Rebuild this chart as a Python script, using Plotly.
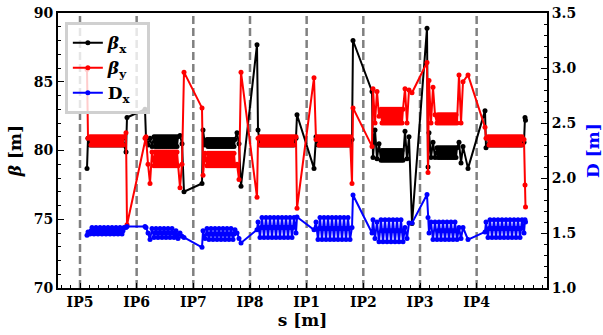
import plotly.graph_objects as go

# ---------------- data ----------------
IP_S = [0.0, 11.33, 22.66, 34.0, 45.33, 56.66, 68.0, 79.33]
IP_LABELS = ["IP5", "IP6", "IP7", "IP8", "IP1", "IP2", "IP3", "IP4"]

# IP5 -> IP6
S_56 = [1.4, 1.6,
        2.0, 2.2, 2.4, 2.6, 2.8, 3.0, 3.2, 3.4, 3.6, 3.8,
        4.0, 4.2, 4.4, 4.6, 4.8, 5.0, 5.2, 5.4, 5.6, 5.8,
        6.0, 6.2, 6.4, 6.6, 6.8, 7.0, 7.2, 7.4, 7.6, 7.8,
        8.0, 8.2, 8.4, 8.6, 8.8,
        9.2, 9.4, 13.0]
BX_56 = [78.7, 80.9,
         80.4, 80.9, 80.4, 80.9, 80.4, 80.9, 80.4, 80.9, 80.4, 80.9,
         80.4, 80.9, 80.4, 80.9, 80.4, 80.9, 80.4, 80.9, 80.4, 80.9,
         80.4, 80.9, 80.4, 80.9, 80.4, 80.9, 80.4, 80.9, 80.4, 80.9,
         80.4, 80.9, 80.4, 80.9, 80.4,
         79.9, 82.4, 83.0]
BY_56 = [85.9, 80.9,
         81.0, 80.4, 81.0, 80.4, 81.0, 80.4, 81.0, 80.4, 81.0, 80.4,
         81.0, 80.4, 81.0, 80.4, 81.0, 80.4, 81.0, 80.4, 81.0, 80.4,
         81.0, 80.4, 81.0, 80.4, 81.0, 80.4, 81.0, 80.4, 81.0, 80.4,
         81.0, 80.4, 81.0, 80.4, 81.0,
         81.3, 74.6, 80.9]
DX_56 = [1.48, 1.51,
         1.49, 1.52, 1.55, 1.52, 1.49, 1.52, 1.55, 1.52, 1.49, 1.52,
         1.55, 1.52, 1.49, 1.52, 1.55, 1.52, 1.49, 1.52, 1.55, 1.52,
         1.49, 1.52, 1.55, 1.52, 1.49, 1.52, 1.55, 1.52, 1.49, 1.52,
         1.55, 1.52, 1.49, 1.52, 1.55,
         1.55, 1.56, 1.56]

# IP6 -> IP7
S_67 = [13.2, 13.6, 14.0, 14.4,
        14.8, 15.0, 15.2, 15.4, 15.6, 15.8, 16.0, 16.2, 16.4, 16.6,
        16.8, 17.0, 17.2, 17.4, 17.6, 17.8, 18.0, 18.2, 18.4, 18.6,
        18.8, 19.0, 19.2, 19.4, 19.6,
        20.0, 20.4, 20.8, 24.4]
BX_67 = [80.9, 80.4, 80.9, 80.3,
         81.0, 80.3, 81.0, 80.3, 81.0, 80.3, 81.0, 80.3, 81.0, 80.3,
         81.0, 80.3, 81.0, 80.3, 81.0, 80.3, 81.0, 80.3, 81.0, 80.3,
         81.0, 80.3, 81.0, 80.3, 81.0,
         81.1, 80.5, 77.0, 77.6]
BY_67 = [81.0, 79.0, 77.6, 79.9,
         78.9, 79.9, 78.9, 79.9, 78.9, 79.9, 78.9, 79.9, 78.9, 79.9,
         78.9, 79.9, 78.9, 79.9, 78.9, 79.9, 78.9, 79.9, 78.9, 79.9,
         78.9, 79.9, 78.9, 79.9, 78.9,
         77.3, 79.0, 85.7, 83.1]
DX_67 = [1.55, 1.50, 1.44, 1.54,
         1.46, 1.50, 1.54, 1.50, 1.46, 1.50, 1.54, 1.50, 1.46, 1.50,
         1.54, 1.50, 1.46, 1.50, 1.54, 1.50, 1.46, 1.50, 1.54, 1.50,
         1.46, 1.49, 1.52, 1.48, 1.45,
         1.50, 1.47, 1.46, 1.37]

# IP7 -> IP8
S_78 = [24.6, 25.0,
        25.4, 25.6, 25.8, 26.0, 26.2, 26.4, 26.6, 26.8, 27.0, 27.2,
        27.4, 27.6, 27.8, 28.0, 28.2, 28.4, 28.6, 28.8, 29.0, 29.2,
        29.4, 29.6, 29.8, 30.0, 30.2, 30.4, 30.6, 30.8, 31.0,
        31.4, 31.8, 32.2, 35.4]
BX_78 = [81.5, 80.4,
         80.8, 80.3, 80.8, 80.3, 80.8, 80.3, 80.8, 80.3, 80.8, 80.3,
         80.8, 80.3, 80.8, 80.3, 80.8, 80.3, 80.8, 80.3, 80.8, 80.3,
         80.8, 80.3, 80.8, 80.3, 80.8, 80.3, 80.8, 80.3, 80.8,
         81.3, 80.5, 77.4, 87.7]
BY_78 = [78.2, 79.8,
         78.9, 79.8, 78.9, 79.8, 78.9, 79.8, 78.9, 79.8, 78.9, 79.8,
         78.9, 79.8, 78.9, 79.8, 78.9, 79.8, 78.9, 79.8, 78.9, 79.8,
         78.9, 79.8, 78.9, 79.8, 78.9, 79.8, 78.9, 79.8, 78.9,
         79.0, 77.9, 85.7, 76.6]
DX_78 = [1.52, 1.45,
         1.54, 1.49, 1.44, 1.49, 1.54, 1.49, 1.44, 1.49, 1.54, 1.49,
         1.44, 1.49, 1.54, 1.49, 1.44, 1.49, 1.54, 1.49, 1.44, 1.49,
         1.54, 1.49, 1.44, 1.49, 1.54, 1.49, 1.44, 1.49, 1.53,
         1.50, 1.45, 1.41, 1.53]

# IP8 -> IP1
S_81 = [35.6,
        36.0, 36.2, 36.4, 36.6, 36.8, 37.0, 37.2, 37.4, 37.6, 37.8,
        38.0, 38.2, 38.4, 38.6, 38.8, 39.0, 39.2, 39.4, 39.6, 39.8,
        40.0, 40.2, 40.4, 40.6, 40.8, 41.0, 41.2, 41.4, 41.6, 41.8,
        42.0, 42.2, 42.4, 42.6, 42.8,
        43.2, 43.4]
BX_81 = [81.5,
         80.4, 80.9, 80.4, 80.9, 80.4, 80.9, 80.4, 80.9, 80.4, 80.9,
         80.4, 80.9, 80.4, 80.9, 80.4, 80.9, 80.4, 80.9, 80.4, 80.9,
         80.4, 80.9, 80.4, 80.9, 80.4, 80.9, 80.4, 80.9, 80.4, 80.9,
         80.4, 80.9, 80.4, 80.9, 80.4,
         80.9, 82.6]
BY_81 = [80.9,
         81.0, 80.4, 81.0, 80.4, 81.0, 80.4, 81.0, 80.4, 81.0, 80.4,
         81.0, 80.4, 81.0, 80.4, 81.0, 80.4, 81.0, 80.4, 81.0, 80.4,
         81.0, 80.4, 81.0, 80.4, 81.0, 80.4, 81.0, 80.4, 81.0, 80.4,
         81.0, 80.4, 81.0, 80.4, 81.0,
         81.0, 75.8]
DX_81 = [1.60,
         1.46, 1.55, 1.64, 1.55, 1.46, 1.55, 1.64, 1.55, 1.46, 1.55,
         1.64, 1.55, 1.46, 1.55, 1.64, 1.55, 1.46, 1.55, 1.64, 1.55,
         1.46, 1.55, 1.64, 1.55, 1.46, 1.55, 1.64, 1.55, 1.46, 1.55,
         1.64, 1.55, 1.46, 1.55, 1.64,
         1.50, 1.645]

# IP1 -> IP2
S_12 = [46.8, 47.2,
        47.6, 47.8, 48.0, 48.2, 48.4, 48.6, 48.8, 49.0, 49.2, 49.4,
        49.6, 49.8, 50.0, 50.2, 50.4, 50.6, 50.8, 51.0, 51.2, 51.4,
        51.6, 51.8, 52.0, 52.2, 52.4, 52.6, 52.8, 53.0, 53.2, 53.4,
        53.6, 53.8, 54.0,
        54.4, 54.6, 58.4]
BX_12 = [78.7, 81.0,
         80.4, 80.9, 80.4, 80.9, 80.4, 80.9, 80.4, 80.9, 80.4, 80.9,
         80.4, 80.9, 80.4, 80.9, 80.4, 80.9, 80.4, 80.9, 80.4, 80.9,
         80.4, 80.9, 80.4, 80.9, 80.4, 80.9, 80.4, 80.9, 80.4, 80.9,
         80.4, 80.9, 80.4,
         80.8, 88.0, 84.3]
BY_12 = [85.3, 80.8,
         81.0, 80.4, 81.0, 80.4, 81.0, 80.4, 81.0, 80.4, 81.0, 80.4,
         81.0, 80.4, 81.0, 80.4, 81.0, 80.4, 81.0, 80.4, 81.0, 80.4,
         81.0, 80.4, 81.0, 80.4, 81.0, 80.4, 81.0, 80.4, 81.0, 80.4,
         81.0, 80.4, 81.0,
         77.6, 83.1, 80.3]
DX_12 = [1.53, 1.60,
         1.44, 1.54, 1.64, 1.54, 1.44, 1.54, 1.64, 1.54, 1.44, 1.54,
         1.64, 1.54, 1.44, 1.54, 1.64, 1.54, 1.44, 1.54, 1.64, 1.54,
         1.44, 1.54, 1.64, 1.54, 1.44, 1.54, 1.64, 1.54, 1.44, 1.54,
         1.64, 1.54, 1.44,
         1.55, 1.845, 1.50]

# IP2 -> IP3
S_23 = [58.6, 59.0, 59.4, 59.8,
        60.2, 60.4, 60.6, 60.8, 61.0, 61.2, 61.4, 61.6, 61.8, 62.0,
        62.2, 62.4, 62.6, 62.8, 63.0, 63.2, 63.4, 63.6, 63.8, 64.0,
        64.2, 64.4, 64.6,
        65.0, 65.4, 65.8, 66.4, 69.4]
BX_23 = [79.5, 81.5, 79.4, 80.5,
         79.3, 80.0, 79.3, 80.0, 79.3, 80.0, 79.3, 80.0, 79.3, 80.0,
         79.3, 80.0, 79.3, 80.0, 79.3, 80.0, 79.3, 80.0, 79.3, 80.0,
         79.3, 80.0, 79.3,
         81.4, 79.4, 81.0, 74.7, 88.9]
BY_23 = [84.5, 82.0, 84.3, 82.5,
         83.0, 82.0, 83.0, 82.0, 83.0, 82.0, 83.0, 82.0, 83.0, 82.0,
         83.0, 82.0, 83.0, 82.0, 83.0, 82.0, 83.0, 82.0, 83.0, 82.0,
         83.0, 82.0, 83.0,
         84.5, 82.0, 84.4, 84.2, 86.4]
DX_23 = [1.62, 1.45, 1.60, 1.42,
         1.62, 1.52, 1.42, 1.52, 1.62, 1.52, 1.42, 1.52, 1.62, 1.52,
         1.42, 1.52, 1.62, 1.52, 1.42, 1.52, 1.62, 1.52, 1.42, 1.52,
         1.62, 1.52, 1.42,
         1.55, 1.45, 1.59, 1.59, 1.85]

# IP3 -> IP4
S_34 = [69.6, 69.8, 70.2, 70.6, 71.0,
        71.4, 71.6, 71.8, 72.0, 72.2, 72.4, 72.6, 72.8, 73.0, 73.2,
        73.4, 73.6, 73.8, 74.0, 74.2, 74.4, 74.6, 74.8, 75.0, 75.2,
        75.4,
        75.8, 76.2, 76.6, 77.6, 81.0]
BX_34 = [78.8, 81.3, 79.5, 80.6, 79.5,
         80.2, 79.5, 80.2, 79.5, 80.2, 79.5, 80.2, 79.5, 80.2, 79.5,
         80.2, 79.5, 80.2, 79.5, 80.2, 79.5, 80.2, 79.5, 80.2, 79.5,
         80.2,
         80.6, 79.1, 80.3, 78.7, 82.9]
BY_34 = [78.4, 85.1, 82.0, 84.6, 82.6,
         82.0, 82.6, 82.0, 82.6, 82.0, 82.6, 82.0, 82.6, 82.0, 82.6,
         82.0, 82.6, 82.0, 82.6, 82.0, 82.6, 82.0, 82.6, 82.0, 82.6,
         82.0,
         85.5, 82.0, 85.0, 85.5, 81.7]
DX_34 = [1.64, 1.50, 1.60, 1.44, 1.60,
         1.44, 1.52, 1.60, 1.52, 1.44, 1.52, 1.60, 1.52, 1.44, 1.52,
         1.60, 1.52, 1.44, 1.52, 1.60, 1.52, 1.44, 1.52, 1.60, 1.52,
         1.44,
         1.55, 1.45, 1.55, 1.44, 1.51]

# IP4 -> end
S_4E = [81.2,
        81.6, 81.8, 82.0, 82.2, 82.4, 82.6, 82.8, 83.0, 83.2, 83.4,
        83.6, 83.8, 84.0, 84.2, 84.4, 84.6, 84.8, 85.0, 85.2, 85.4,
        85.6, 85.8, 86.0, 86.2, 86.4, 86.6, 86.8, 87.0, 87.2, 87.4,
        87.6, 87.8, 88.0, 88.2, 88.4,
        88.8, 89.0, 89.1]
BX_4E = [80.2,
         80.4, 80.9, 80.4, 80.9, 80.4, 80.9, 80.4, 80.9, 80.4, 80.9,
         80.4, 80.9, 80.4, 80.9, 80.4, 80.9, 80.4, 80.9, 80.4, 80.9,
         80.4, 80.9, 80.4, 80.9, 80.4, 80.9, 80.4, 80.9, 80.4, 80.9,
         80.4, 80.9, 80.4, 80.9, 80.4,
         80.6, 82.4, 82.2]
BY_4E = [80.9,
         81.0, 80.4, 81.0, 80.4, 81.0, 80.4, 81.0, 80.4, 81.0, 80.4,
         81.0, 80.4, 81.0, 80.4, 81.0, 80.4, 81.0, 80.4, 81.0, 80.4,
         81.0, 80.4, 81.0, 80.4, 81.0, 80.4, 81.0, 80.4, 81.0, 80.4,
         81.0, 80.4, 81.0, 80.4, 81.0,
         80.8, 77.5, 75.9]
DX_4E = [1.60,
         1.46, 1.54, 1.62, 1.54, 1.46, 1.54, 1.62, 1.54, 1.46, 1.54,
         1.62, 1.54, 1.46, 1.54, 1.62, 1.54, 1.46, 1.54, 1.62, 1.54,
         1.46, 1.54, 1.62, 1.54, 1.46, 1.54, 1.62, 1.54, 1.46, 1.54,
         1.62, 1.54, 1.46, 1.54, 1.62,
         1.50, 1.62, 1.60]

# ---------------- assemble ----------------
S = S_56 + S_67 + S_78 + S_81 + S_12 + S_23 + S_34 + S_4E
BETA_X = BX_56 + BX_67 + BX_78 + BX_81 + BX_12 + BX_23 + BX_34 + BX_4E
BETA_Y = BY_56 + BY_67 + BY_78 + BY_81 + BY_12 + BY_23 + BY_34 + BY_4E
DISP_X = DX_56 + DX_67 + DX_78 + DX_81 + DX_12 + DX_23 + DX_34 + DX_4E
assert len(S) == len(BETA_X) == len(BETA_Y) == len(DISP_X), (len(S), len(BETA_X), len(BETA_Y), len(DISP_X))

SERIF = "DejaVu Serif"

fig = go.Figure()
fig.add_trace(go.Scatter(x=S, y=BETA_X, mode="lines+markers", name="<i>β</i><sub>x</sub>\u00a0\u00a0",
                         line=dict(color="black", width=2), marker=dict(color="black", size=5)))
fig.add_trace(go.Scatter(x=S, y=BETA_Y, mode="lines+markers", name="<i>β</i><sub>y</sub>\u00a0\u00a0",
                         line=dict(color="#ff0000", width=2), marker=dict(color="#ff0000", size=5)))
fig.add_trace(go.Scatter(x=S, y=DISP_X, mode="lines+markers", name="D<sub>x</sub>\u00a0\u00a0", yaxis="y2",
                         line=dict(color="#0000ff", width=2), marker=dict(color="#0000ff", size=5)))

for s_ip in IP_S:
    fig.add_shape(type="line", x0=s_ip, x1=s_ip, xref="x", y0=0, y1=1, yref="paper",
                  line=dict(color="#808080", width=2.5, dash="8px,4px"), layer="below")

tickfont = dict(family=SERIF, size=14, color="black", weight="bold")
titlefont = dict(family=SERIF, size=17, color="black", weight="bold")

fig.update_layout(
    width=603, height=335,
    margin=dict(l=58, r=56, t=13, b=47),
    plot_bgcolor="white", paper_bgcolor="white",
    showlegend=True,
    legend=dict(x=0.014, y=0.967, xanchor="left", yanchor="top",
                bgcolor="rgba(255,255,255,0.8)", bordercolor="#d0d0d0", borderwidth=3,
                font=dict(family=SERIF, size=17, color="black", weight="bold"),
                tracegroupgap=0),
    xaxis=dict(range=[-4.4, 93.4], tickmode="array", tickvals=IP_S, ticktext=IP_LABELS,
               automargin=False,
               showgrid=False, zeroline=False, showline=True, linecolor="black", linewidth=2,
               mirror=True, ticks="inside", ticklen=5, tickcolor="black", tickfont=tickfont,
               minor=dict(ticks="inside", ticklen=3, tick0=0, dtick=1.888, tickcolor="black"),
               title=dict(text="s [m]", font=titlefont, standoff=4)),
    yaxis=dict(range=[70, 90], tickvals=[70, 75, 80, 85, 90], showgrid=False, zeroline=False,
               automargin=False,
               showline=True, linecolor="black", linewidth=2, ticks="inside", ticklen=6,
               tickcolor="black", tickfont=tickfont,
               minor=dict(ticks="inside", ticklen=3, dtick=1, tickcolor="black"),
               title=dict(text="<i>β</i> [m]", font=titlefont, standoff=8)),
    yaxis2=dict(range=[1.0, 3.5], tickvals=[1.0, 1.5, 2.0, 2.5, 3.0, 3.5],
                ticktext=["1.0", "1.5", "2.0", "2.5", "3.0", "3.5"],
                automargin=False,
                overlaying="y", side="right", showgrid=False, zeroline=False,
                showline=True, linecolor="black", linewidth=2, ticks="inside", ticklen=6,
                tickcolor="black", tickfont=tickfont,
                minor=dict(ticks="inside", ticklen=3, dtick=0.1, tickcolor="black"),
                title=dict(text="D [m]", font=dict(family=SERIF, size=17, color="#0000ff", weight="bold"),
                           standoff=12)),
)

fig.write_html("out.html", config={"displayModeBar": False},
               post_script="document.body.style.margin='0px';")
